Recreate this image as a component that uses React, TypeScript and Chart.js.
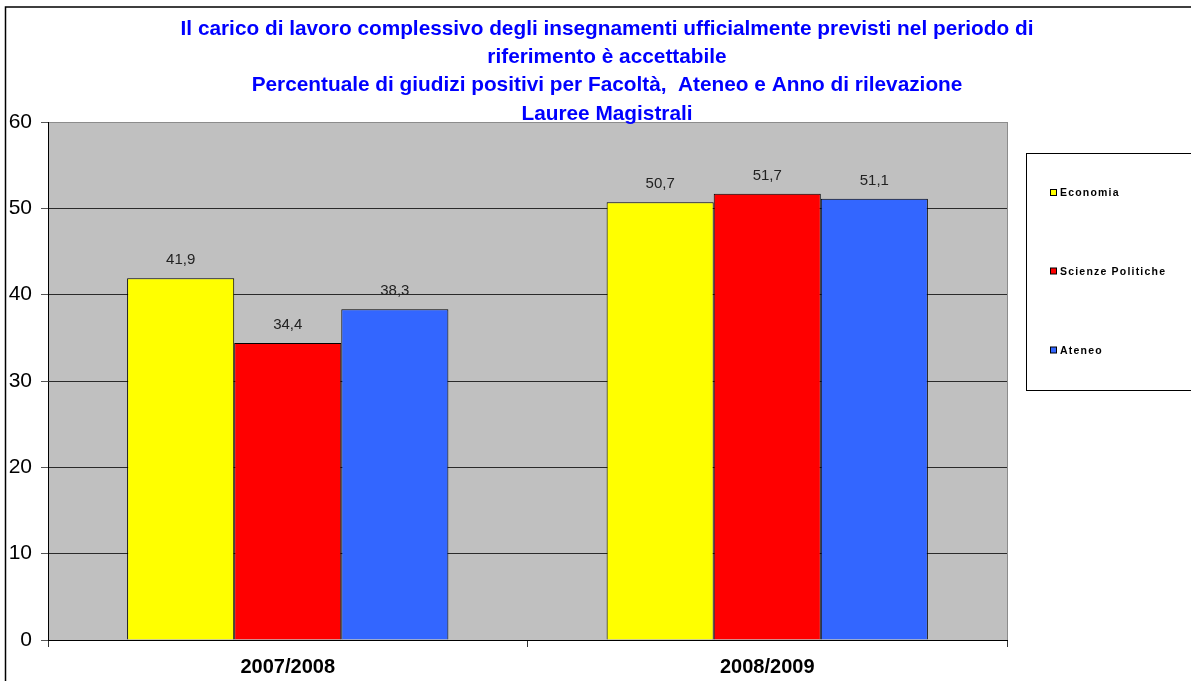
import React, { useEffect, useRef } from "react";
import { Chart, registerables } from "chart.js";

Chart.register(...registerables);

const categories = ["2007/2008", "2008/2009"];
const seriesNames = ["Economia", "Scienze Politiche", "Ateneo"];
const economia = [41.9, 50.7];
const scienzePolitiche = [34.4, 51.7];
const ateneo = [38.3, 51.1];
const seriesColors = ["#FFFF00", "#FF0000", "#3366FF"];
const titleLines = [
  "Il carico di lavoro complessivo degli insegnamenti ufficialmente previsti nel periodo di",
  "riferimento è accettabile",
  "Percentuale di giudizi positivi per Facoltà,  Ateneo e Anno di rilevazione",
  "Lauree Magistrali",
];
const yMin = 0;
const yMax = 60;
const yStep = 10;

const decorPlugin = {
  id: "decor",
  beforeDraw(chart: any) {
    const { ctx, chartArea } = chart;
    ctx.save();
    ctx.fillStyle = "#ffffff";
    ctx.fillRect(0, 0, chart.width, chart.height);
    ctx.fillStyle = "#C0C0C0";
    ctx.fillRect(chartArea.left, chartArea.top, chartArea.right - chartArea.left, chartArea.bottom - chartArea.top);
    ctx.restore();
  },
  afterDraw(chart: any) {
    const { ctx, chartArea } = chart;
    ctx.save();
    ctx.strokeStyle = "#8c8c8c";
    ctx.lineWidth = 1;
    ctx.beginPath();
    ctx.moveTo(chartArea.right + 0.5, chartArea.top);
    ctx.lineTo(chartArea.right + 0.5, chartArea.bottom);
    ctx.stroke();
    ctx.strokeStyle = "#000";
    ctx.lineWidth = 1.5;
    ctx.strokeRect(5.5, 7, chart.width + 20, chart.height + 20);
    ctx.fillStyle = "#0000FF";
    ctx.font = "bold 20.8px 'Liberation Sans', Arial, sans-serif";
    ctx.textAlign = "center";
    ctx.textBaseline = "middle";
    titleLines.forEach((t, i) => ctx.fillText(t, 607, 29 + i * 28.3));
    ctx.fillStyle = "#222";
    ctx.font = "15px 'Liberation Sans', Arial, sans-serif";
    chart.data.datasets.forEach((ds: any, di: number) => {
      const meta = chart.getDatasetMeta(di);
      meta.data.forEach((bar: any, i: number) => {
        ctx.fillText(String(ds.data[i]).replace(".", ","), bar.x, bar.y - 18);
      });
    });
    ctx.strokeStyle = "#000";
    ctx.lineWidth = 1;
    ctx.fillStyle = "#fff";
    ctx.fillRect(1026.5, 153.5, 200, 237);
    ctx.strokeRect(1026.5, 153.5, 200, 237);
    const ys = [193, 271.5, 350.5];
    ctx.textAlign = "left";
    ctx.font = "bold 10.5px 'Liberation Sans', Arial, sans-serif";
    (ctx as any).letterSpacing = "1.2px";
    chart.data.datasets.forEach((ds: any, di: number) => {
      const y = ys[di];
      ctx.fillStyle = ds.backgroundColor;
      ctx.fillRect(1050.5, y - 3.5, 6, 6);
      ctx.strokeStyle = "#000";
      ctx.strokeRect(1050.5, y - 3.5, 6, 6);
      ctx.fillStyle = "#000";
      ctx.fillText(ds.label, 1060, y + 0.5);
    });
    ctx.restore();
  },
};

export default function App() {
  const ref = useRef<HTMLCanvasElement>(null);
  useEffect(() => {
    document.body.style.margin = "0";
    document.body.style.overflow = "hidden";
    const data = [economia, scienzePolitiche, ateneo];
    const chart = new Chart(ref.current!, {
      type: "bar",
      data: {
        labels: categories,
        datasets: seriesNames.map((n, i) => ({
          label: n,
          data: data[i],
          backgroundColor: seriesColors[i],
          borderColor: "#000",
          borderWidth: 1,
          categoryPercentage: 0.67,
          barPercentage: 1,
        })),
      },
      options: {
        animation: false,
        responsive: false,
        devicePixelRatio: 1,
        layout: { padding: { top: 122, right: 184, bottom: 0, left: 0 } },
        plugins: { legend: { display: false }, title: { display: false }, tooltip: { enabled: false } },
        scales: {
          x: {
            afterFit: (s: any) => { s.height = 41; },
            grid: { offset: true, drawOnChartArea: false, tickLength: 7, color: "#333" },
            border: { color: "#000", width: 1 },
            ticks: { color: "#000", padding: 8, font: { family: "'Liberation Sans', Arial, sans-serif", size: 20, weight: "bold" } },
          },
          y: {
            min: yMin,
            max: yMax,
            afterFit: (s: any) => { s.width = 48; },
            grid: { color: (c: any) => (c.tick && c.tick.value === yMax ? "#8c8c8c" : "#2a2a2a"), tickLength: 7, tickColor: "#555" },
            border: { color: "#000", width: 1 },
            ticks: { stepSize: yStep, color: "#000", padding: 9, font: { family: "'Liberation Sans', Arial, sans-serif", size: 21 } },
          },
        },
      },
      plugins: [decorPlugin],
    });
    return () => chart.destroy();
  }, []);
  return <canvas ref={ref} width={1191} height={681} style={{ display: "block" }} />;
}
